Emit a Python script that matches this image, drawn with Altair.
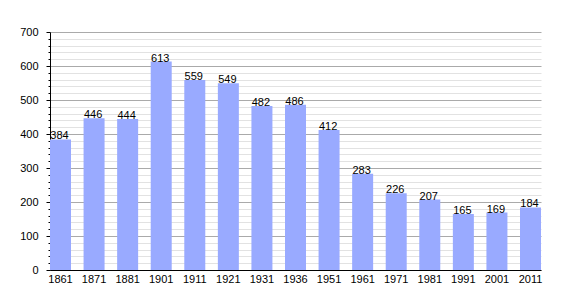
import altair as alt
import pandas as pd

years = ["1861", "1871", "1881", "1901", "1911", "1921", "1931", "1936",
         "1951", "1961", "1971", "1981", "1991", "2001", "2011"]
population = [384, 446, 444, 613, 559, 549, 482, 486, 412, 283, 226, 207, 165, 169, 184]
y_ticks = list(range(0, 701, 20))

df = pd.DataFrame({"year": years, "pop": population})

FONT = "Liberation Sans"

x = alt.X("year:N", sort=years, title=None,
          scale=alt.Scale(paddingInner=0.3745, paddingOuter=0),
          axis=alt.Axis(ticks=False, domainColor="#000000", labelAngle=0,
                        labelFont=FONT, labelFontSize=11, labelColor="#000000",
                        labelPadding=3, grid=False))
y = alt.Y("pop:Q", title=None,
          scale=alt.Scale(domain=[0, 700], nice=False),
          axis=alt.Axis(values=y_ticks,
                        labelExpr="datum.value % 100 === 0 ? datum.label : ''",
                        labelOverlap=False,
                        domainColor="#000000",
                        tickColor="#000000",
                        tickSize={"condition": {"test": "datum.value % 100 === 0", "value": 4}, "value": 2},
                        labelFont=FONT, labelFontSize=11, labelColor="#000000",
                        labelPadding=8,
                        grid=True,
                        gridColor={"condition": {"test": "datum.value % 100 === 0", "value": "#aaaaaa"}, "value": "#e2e2e2"},
                        gridWidth=1))

bars = alt.Chart(df).mark_bar(color="#99AAFF").encode(x=x, y=y)
labels = alt.Chart(df).mark_text(baseline="bottom", dy=2, dx=-1, fontSize=11,
                                 font=FONT, color="#000000").encode(
    x=x, y=y, text="pop:Q")

chart = (bars + labels).properties(
    width=491, height=238,
    autosize=alt.AutoSizeParams(type="none"),
    padding={"left": 50, "top": 32, "right": 29, "bottom": 30},
    background="#ffffff",
).configure_view(stroke=None)

chart.save("out.html", embed_options={"renderer": "svg", "actions": False})
